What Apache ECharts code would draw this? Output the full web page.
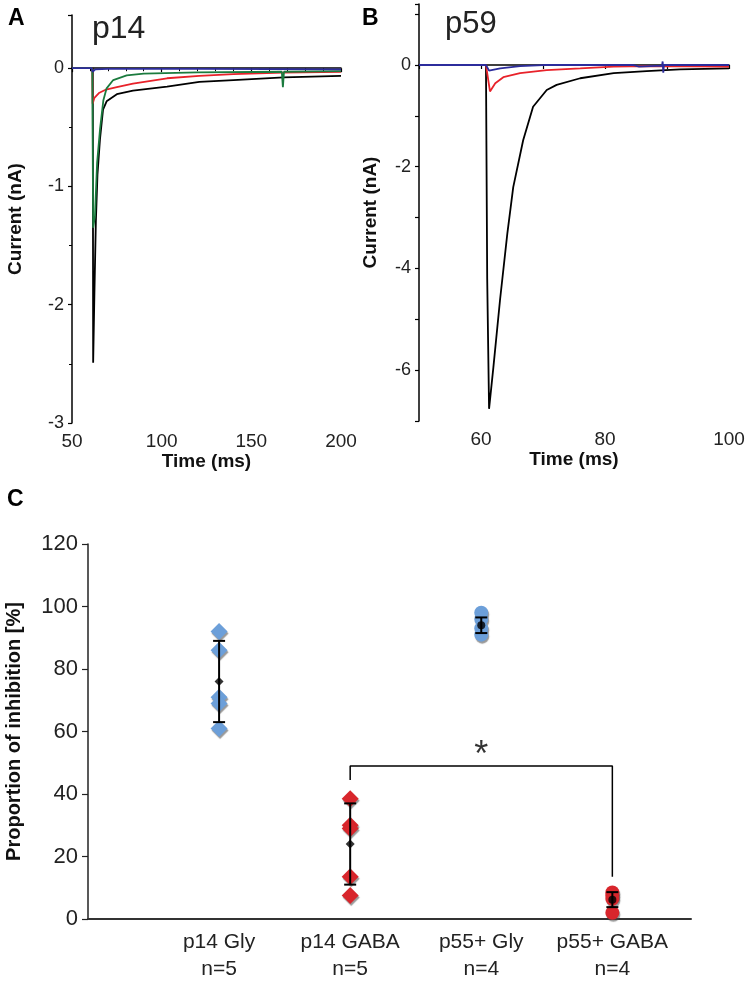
<!DOCTYPE html>
<html><head><meta charset="utf-8">
<script src="https://cdn.jsdelivr.net/npm/echarts@6/dist/echarts.min.js"></script>
<style>html,body{margin:0;padding:0;background:#fff}#c{width:756px;height:981px}</style>
</head><body><div id="c"></div>
<script>
const FONT = '"Liberation Sans", Arial, Helvetica, sans-serif';

// ---------- Panel A (p14) traces: time (ms), current (nA) ----------
const timeA_black = [50, 61.6, 61.8, 62.5, 63.3, 64.2, 65.6, 67.3, 69.3, 75, 84, 103, 121, 140, 168, 200];
const curA_black  = [0, 0, -2.49, -1.9, -1.3, -0.9, -0.6, -0.35, -0.28, -0.22, -0.19, -0.155, -0.115, -0.1, -0.078, -0.065];
const timeA_red = [50, 61.3, 61.5, 62.5, 65, 69, 75, 84, 103, 121, 140, 168, 200];
const curA_red  = [0, 0, -0.30, -0.25, -0.21, -0.18, -0.16, -0.13, -0.085, -0.065, -0.05, -0.037, -0.03];
const timeA_green = [50, 61.3, 61.8, 62.8, 64, 65.6, 67.5, 69.3, 73, 80.5, 90, 120, 167, 167.6, 168.2, 200];
const curA_green  = [0, 0, -1.35, -1.25, -0.8, -0.52, -0.27, -0.17, -0.1, -0.06, -0.045, -0.035, -0.03, -0.16, -0.03, -0.025];
const timeA_blue = [50, 61, 61.5, 63, 70, 120, 200];
const curA_blue  = [0, 0, -0.03, -0.01, -0.005, -0.005, -0.01];

// ---------- Panel B (p59) traces ----------
const timeB_black = [50, 60.8, 61.0, 61.3, 62.0, 63.06, 64.25, 65.2, 66.8, 68.4, 70.6, 72.2, 76, 81.4, 86.7, 92.1, 100];
const curB_black  = [0, 0, -4.2, -6.76, -5.94, -4.63, -3.31, -2.4, -1.48, -0.82, -0.49, -0.39, -0.26, -0.16, -0.12, -0.085, -0.066];
const timeB_red = [50, 60.8, 61.45, 62.3, 63.6, 66.3, 70.6, 76, 81.4, 86.7, 100];
const curB_red  = [0, 0, -0.52, -0.36, -0.24, -0.16, -0.1, -0.066, -0.03, -0.02, -0.03];
const timeB_blue = [50, 60.8, 61.3, 63.1, 66.3, 70, 84.6, 84.8, 85.5, 89.2, 89.3, 89.4, 89.5, 100];
const curB_blue  = [0, 0, -0.11, -0.066, -0.02, 0, 0, -0.03, -0.03, -0.01, 0.07, -0.15, 0, 0];

// ---------- Panel C ----------
const groupNames = ['p14 Gly', 'p14 GABA', 'p55+ Gly', 'p55+ GABA'];
const groupN = ['n=5', 'n=5', 'n=4', 'n=4'];
const p14Gly = [92, 86, 71, 69, 61];
const p14GABA = [38.5, 30, 29, 13.5, 7.5];
const p55Gly = [98, 96, 93, 91];
const p55GABA = [8.5, 7.5, 6.5, 2];
const meanVals = [76, 24, 94, 6.2];
const sdVals = [13, 13, 2.5, 2.4];
const bracketX = [2, 2, 4, 4];
const bracketY = [44.5, 49, 49, 13.5];
const starPos = [3, 52];

const zip = (a, b) => a.map((v, i) => [v, b[i]]);
const at = (x, arr) => arr.map(v => [x, v]);

const axisLineBlack = { show: true, lineStyle: { color: '#000', width: 1.5 } };
const tickStyle = { show: true, length: 4, lineStyle: { color: '#000', width: 1.2 } };
const lblY = { color: '#222', fontSize: 18, fontFamily: FONT, margin: 8 };
const lblX = { color: '#222', fontSize: 19, fontFamily: FONT, margin: 9 };
const nameBold = { color: '#111', fontSize: 19, fontWeight: 'bold', fontFamily: FONT };

const traceLine = (xi, data, color, z) => ({
  type: 'line', xAxisIndex: xi, yAxisIndex: xi, data, showSymbol: false, symbol: 'none',
  lineStyle: { color, width: 1.8 }, z, animation: false, silent: true
});

const shadow = { shadowColor: 'rgba(70,70,70,0.55)', shadowBlur: 1, shadowOffsetX: 1, shadowOffsetY: 2 };
const BLUE = '#6c9fd9', RED = '#d8262c';
const pts = (x, arr, color, symbol, size) => ({
  type: 'scatter', xAxisIndex: 2, yAxisIndex: 2, data: at(x, arr), symbol, symbolSize: size,
  itemStyle: Object.assign({ color, opacity: 1 }, shadow), z: 3, animation: false, silent: true
});

const chart = echarts.init(document.getElementById('c'), null, { renderer: 'canvas' });
chart.setOption({
  backgroundColor: '#fff',
  animation: false,
  grid: [
    { left: 72, top: 15, width: 269, height: 408, containLabel: false, outerBoundsMode: 'none' },
    { left: 419, top: 4, width: 310, height: 417, containLabel: false, outerBoundsMode: 'none' },
    { left: 88, top: 544, width: 603, height: 375, containLabel: false, outerBoundsMode: 'none' }
  ],
  xAxis: [
    { type: 'value', gridIndex: 0, min: 50, max: 200, interval: 50,
      axisLine: axisLineBlack, axisTick: tickStyle,
      minorTick: { show: true, splitNumber: 5, length: 3, lineStyle: { color: '#000', width: 1 } },
      splitLine: { show: false }, axisLabel: lblX,
      name: 'Time (ms)', nameLocation: 'middle', nameGap: 24, nameTextStyle: nameBold },
    { type: 'value', gridIndex: 1, min: 50, max: 100, interval: 10,
      axisLine: axisLineBlack, axisTick: tickStyle, splitLine: { show: false },
      axisLabel: Object.assign({}, lblX, { formatter: v => (v % 20 === 0 ? String(v) : '') }),
      name: 'Time (ms)', nameLocation: 'middle', nameGap: 26, nameTextStyle: nameBold },
    { type: 'value', gridIndex: 2, min: 0, max: 4.6, interval: 1,
      axisLine: { show: true, lineStyle: { color: '#333', width: 2 } }, axisTick: { show: false },
      splitLine: { show: false },
      axisLabel: { color: '#222', fontSize: 21, fontFamily: FONT, margin: 10, lineHeight: 27,
        showMaxLabel: false, showMinLabel: false,
        formatter: v => (Number.isInteger(v) && v >= 1 && v <= 4) ? groupNames[v - 1] + '\n' + groupN[v - 1] : '' } }
  ],
  yAxis: [
    { type: 'value', gridIndex: 0, min: -3, max: 0.45, interval: 1,
      axisLine: axisLineBlack, axisTick: tickStyle,
      minorTick: { show: true, splitNumber: 2, length: 3, lineStyle: { color: '#000', width: 1 } },
      splitLine: { show: false },
      axisLabel: Object.assign({}, lblY, { formatter: v => Number.isInteger(v) ? String(v) : '' }),
      name: 'Current (nA)', nameLocation: 'middle', nameGap: 47, nameTextStyle: nameBold },
    { type: 'value', gridIndex: 1, min: -7, max: 1.2, interval: 1,
      axisLine: axisLineBlack, axisTick: tickStyle, splitLine: { show: false },
      axisLabel: Object.assign({}, lblY, { formatter: v => (Number.isInteger(v) && v % 2 === 0 && v <= 0) ? String(v) : '' }),
      name: 'Current (nA)', nameLocation: 'middle', nameGap: 39, nameTextStyle: nameBold },
    { type: 'value', gridIndex: 2, min: 0, max: 120, interval: 20,
      axisLine: { show: true, lineStyle: { color: '#222', width: 1.5 } },
      axisTick: { show: true, length: 6, lineStyle: { color: '#222', width: 1.2 } },
      splitLine: { show: false },
      axisLabel: { color: '#222', fontSize: 22, fontFamily: FONT, margin: 10 },
      name: 'Proportion of inhibition [%]', nameLocation: 'middle', nameGap: 64,
      nameTextStyle: { color: '#111', fontSize: 20, fontWeight: 'bold', fontFamily: FONT } }
  ],
  graphic: [
    { type: 'text', left: 8, top: 7, style: { text: 'A', font: 'bold 23px ' + FONT, fill: '#000' } },
    { type: 'text', left: 92, top: 13, style: { text: 'p14', font: '32px ' + FONT, fill: '#222' } },
    { type: 'text', left: 362, top: 7, style: { text: 'B', font: 'bold 23px ' + FONT, fill: '#000' } },
    { type: 'text', left: 445, top: 9, style: { text: 'p59', font: '31px ' + FONT, fill: '#222' } },
    { type: 'text', left: 7, top: 488, style: { text: 'C', font: 'bold 23px ' + FONT, fill: '#000' } }
  ],
  series: [
    traceLine(0, zip(timeA_black, curA_black), '#000', 2),
    traceLine(0, zip(timeA_red, curA_red), '#e8222a', 3),
    traceLine(0, zip(timeA_green, curA_green), '#1b7b3e', 4),
    traceLine(0, zip(timeA_blue, curA_blue), '#2c2c9c', 5),
    traceLine(1, zip(timeB_black, curB_black), '#000', 2),
    traceLine(1, zip(timeB_red, curB_red), '#e8222a', 3),
    traceLine(1, zip(timeB_blue, curB_blue), '#2c2c9c', 5),

    pts(1, p14Gly, BLUE, 'diamond', 17),
    pts(2, p14GABA, RED, 'diamond', 17),
    pts(3, p55Gly, BLUE, 'circle', 14),
    pts(4, p55GABA, RED, 'circle', 14),

    { type: 'custom', xAxisIndex: 2, yAxisIndex: 2, z: 5, animation: false, silent: true,
      data: meanVals.map((m, i) => [i + 1, m, sdVals[i]]),
      encode: { x: 0, y: 1 },
      renderItem: function (params, api) {
        const x = api.value(0), m = api.value(1), s = api.value(2);
        const t = api.coord([x, m + s]), b = api.coord([x, m - s]);
        const hw = 6, st = { stroke: '#000', lineWidth: 2 };
        return { type: 'group', children: [
          { type: 'line', shape: { x1: t[0], y1: t[1], x2: b[0], y2: b[1] }, style: st },
          { type: 'line', shape: { x1: t[0] - hw, y1: t[1], x2: t[0] + hw, y2: t[1] }, style: st },
          { type: 'line', shape: { x1: b[0] - hw, y1: b[1], x2: b[0] + hw, y2: b[1] }, style: st }
        ] };
      } },
    { type: 'scatter', xAxisIndex: 2, yAxisIndex: 2, z: 6, animation: false, silent: true,
      data: [[1, meanVals[0]], [2, meanVals[1]]], symbol: 'diamond', symbolSize: 9, itemStyle: { color: '#000' } },
    { type: 'scatter', xAxisIndex: 2, yAxisIndex: 2, z: 6, animation: false, silent: true,
      data: [[3, meanVals[2]], [4, meanVals[3]]], symbol: 'circle', symbolSize: 8, itemStyle: { color: '#000' } },

    { type: 'line', xAxisIndex: 2, yAxisIndex: 2, data: zip(bracketX, bracketY), showSymbol: false, symbol: 'none',
      lineStyle: { color: '#000', width: 1.5 }, z: 4, animation: false, silent: true },
    { type: 'scatter', xAxisIndex: 2, yAxisIndex: 2, data: [starPos], symbolSize: 1, itemStyle: { color: 'rgba(0,0,0,0)' },
      label: { show: true, position: 'inside', formatter: '*', fontSize: 36, fontFamily: FONT, color: '#000' },
      z: 4, animation: false, silent: true }
  ]
});
</script>
</body></html>
